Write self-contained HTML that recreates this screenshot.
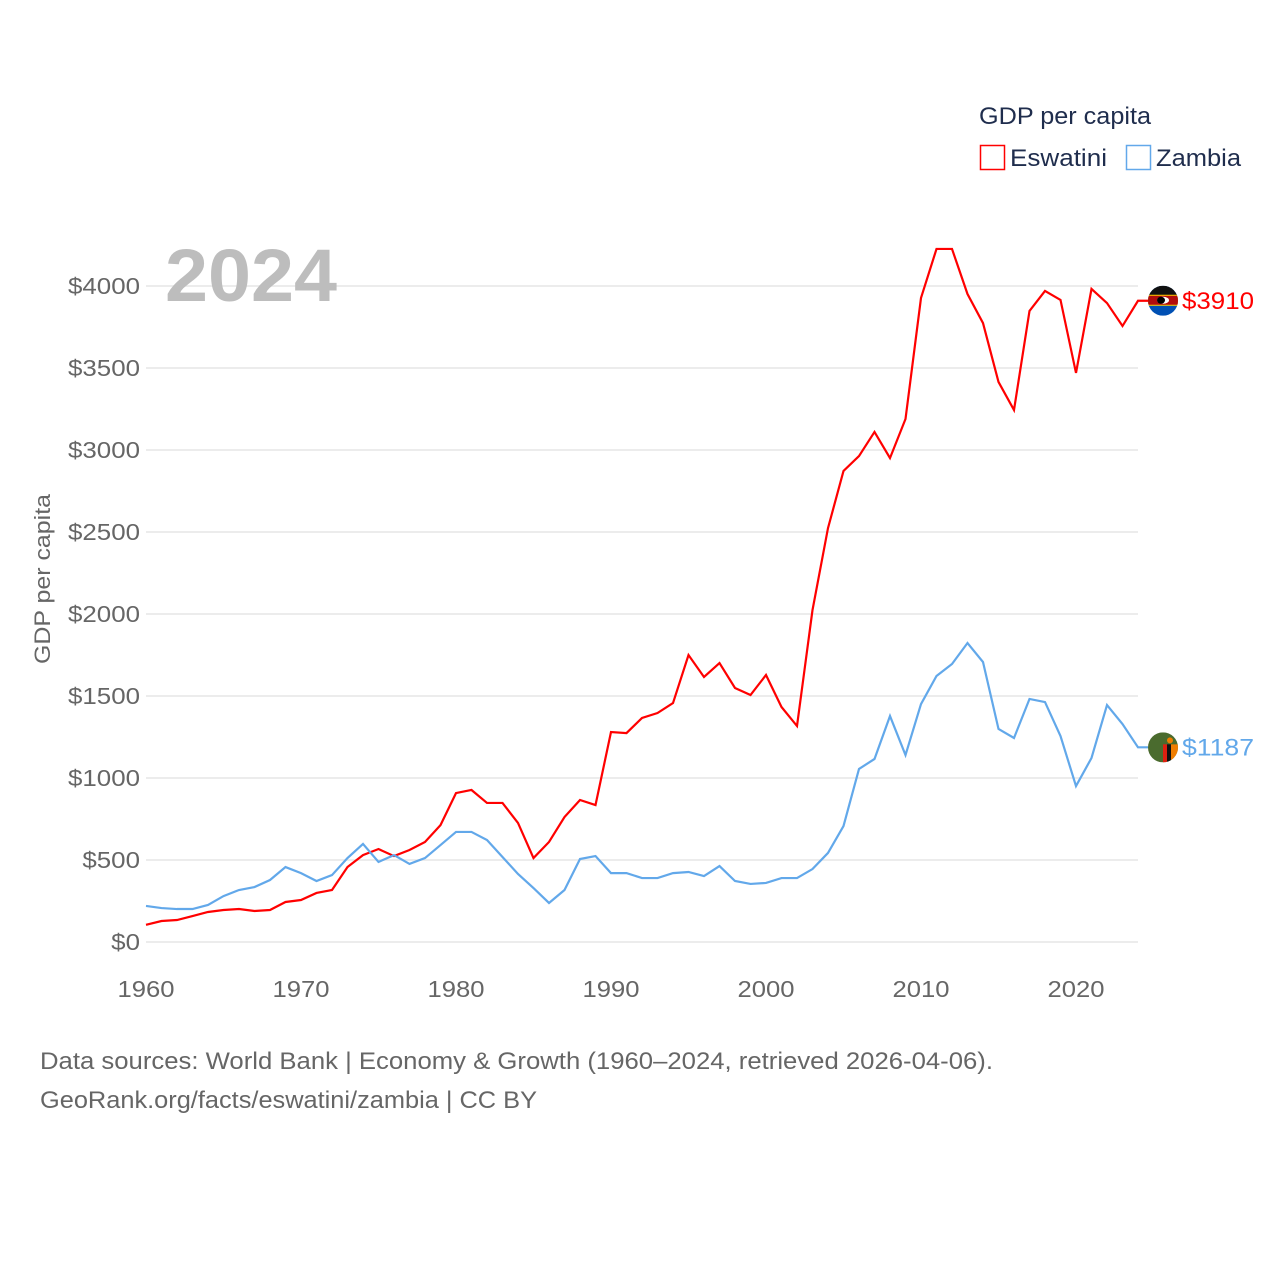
<!DOCTYPE html>
<html><head><meta charset="utf-8">
<style>
html,body{margin:0;padding:0;background:#fff;}
body{width:1280px;height:1280px;overflow:hidden;font-family:"Liberation Sans",sans-serif;}
</style></head>
<body>
<svg id="chart" width="1280" height="1280" xmlns="http://www.w3.org/2000/svg" font-family="Liberation Sans, sans-serif">
  <g id="grid"></g>
  <g id="yticks"></g>
  <g id="xticks"></g>
  <text x="165" y="301" font-size="74" font-weight="bold" fill="#bdbdbd" textLength="172" lengthAdjust="spacingAndGlyphs">2024</text>
  <text transform="translate(50,579) rotate(-90)" text-anchor="middle" font-size="22" fill="#666" textLength="170" lengthAdjust="spacingAndGlyphs">GDP per capita</text>
  <g id="series"></g>
  <g>
    <text x="979" y="124" font-size="24" fill="#1f2d4d" textLength="172" lengthAdjust="spacingAndGlyphs">GDP per capita</text>
    <g>
      <rect x="980.5" y="145.5" width="24" height="24" fill="none" stroke="#ff0000" stroke-width="1.5"/>
      <text x="1010" y="166" font-size="24" fill="#1f2d4d" textLength="97" lengthAdjust="spacingAndGlyphs">Eswatini</text>
    </g>
    <g>
      <rect x="1126.5" y="145.5" width="24" height="24" fill="none" stroke="#62a8ea" stroke-width="1.5"/>
      <text x="1156" y="166" font-size="24" fill="#1f2d4d" textLength="85" lengthAdjust="spacingAndGlyphs">Zambia</text>
    </g>
  </g>
  <text x="40" y="1069" font-size="24" fill="#666" textLength="953" lengthAdjust="spacingAndGlyphs">Data sources: World Bank | Economy &amp; Growth (1960–2024, retrieved 2026-04-06).</text>
  <text x="40" y="1108" font-size="24" fill="#666" textLength="497" lengthAdjust="spacingAndGlyphs">GeoRank.org/facts/eswatini/zambia | CC BY</text>
</svg>
<script>
const years = [];
for (let y = 1960; y <= 2024; y++) years.push(y);
const eswatini = [105,128,134,158,183,195,201,189,195,244,256,299,317,457,530,567,524,561,610,713,908,927,848,848,726,512,610,762,866,835,1280,1274,1366,1396,1457,1750,1616,1701,1549,1506,1628,1433,1317,2024,2524,2872,2963,3110,2951,3189,3927,4226,4226,3951,3774,3415,3244,3848,3970,3915,3470,3982,3896,3756,3910];
const zambia = [220,207,201,201,226,280,317,335,378,457,420,372,408,512,598,488,530,476,512,591,671,671,622,518,415,329,238,317,506,524,420,420,390,390,420,427,402,463,372,354,360,390,390,445,543,707,1055,1116,1378,1140,1451,1622,1695,1823,1707,1299,1244,1482,1463,1256,951,1122,1445,1329,1187];
const yTicks = [0,500,1000,1500,2000,2500,3000,3500,4000];
const xTicks = [1960,1970,1980,1990,2000,2010,2020];

const NS = "http://www.w3.org/2000/svg";
const xs = v => 146 + (v - 1960) * 15.5;
const ys = v => 942 - v * 0.164;
function mk(tag, attrs, parent) {
  const e = document.createElementNS(NS, tag);
  for (const k in attrs) e.setAttribute(k, attrs[k]);
  parent.appendChild(e);
  return e;
}
const grid = document.getElementById('grid');
const yt = document.getElementById('yticks');
const xt = document.getElementById('xticks');
const ser = document.getElementById('series');

yTicks.forEach(v => {
  const l = mk('line', {x1:146, x2:1138, y1:ys(v), y2:ys(v), stroke:'#e6e6e6', 'stroke-width':1.5}, grid);
  
  
  const label = '$' + v;
  const t = mk('text', {x:140, y:ys(v)+8, 'text-anchor':'end', 'font-size':23, fill:'#666', textLength: label.length * 14.4, lengthAdjust:'spacingAndGlyphs'}, yt);
  
  
  t.textContent = label;
});
xTicks.forEach(v => {
  const t = mk('text', {x:xs(v), y:997, 'text-anchor':'middle', 'font-size':23, fill:'#666', textLength:57, lengthAdjust:'spacingAndGlyphs'}, xt);
  
  
  t.textContent = v;
});

function drawSeries(vals, color, name) {
  const pts = vals.map((v, i) => xs(years[i]) + ',' + ys(v));
  const last = vals[vals.length - 1];
  const lx = xs(years[years.length - 1]);
  pts.push((lx + 10) + ',' + ys(last));
  const p = mk('polyline', {points: pts.join(' '), fill:'none', stroke:color, 'stroke-width':2.2, 'stroke-linejoin':'miter'}, ser);
  
  
  const t = mk('text', {x:1182, y:ys(last)+8, 'font-size':24, fill:color, textLength:72, lengthAdjust:'spacingAndGlyphs'}, ser);
  
  
  t.textContent = '$' + last;
  return ys(last);
}
const ey = drawSeries(eswatini, '#ff0000', 'eswatini');
const zy = drawSeries(zambia, '#62a8ea', 'zambia');

// Eswatini flag
const fe = mk('g', {}, ser);


const cp = mk('clipPath', {id:'ce'}, fe);
mk('circle', {cx:1163, cy:ey, r:15}, cp);
const ge = mk('g', {'clip-path':'url(#ce)'}, fe);
mk('rect',{x:1148,y:ey-15,width:30,height:30,fill:'#0050b4'},ge);
mk('rect',{x:1148,y:ey-15,width:30,height:12,fill:'#111'},ge);
mk('rect',{x:1148,y:ey-6,width:30,height:11,fill:'#ffd100'},ge);
mk('rect',{x:1148,y:ey-5,width:30,height:9,fill:'#b10c0c'},ge);
mk('ellipse',{cx:1163,cy:ey-0.5,rx:6,ry:3.5,fill:'#fff'},ge);
mk('ellipse',{cx:1161,cy:ey-0.5,rx:4,ry:3.5,fill:'#000'},ge);
// Zambia flag
const fz = mk('g', {}, ser);


const cz = mk('clipPath', {id:'cz'}, fz);
mk('circle', {cx:1163, cy:zy, r:15}, cz);
const gz = mk('g', {'clip-path':'url(#cz)'}, fz);
mk('rect',{x:1148,y:zy-15,width:30,height:30,fill:'#4a6b2e'},gz);
mk('rect',{x:1163,y:zy-3,width:4,height:18,fill:'#de2010'},gz);
mk('rect',{x:1167,y:zy-3,width:4,height:18,fill:'#111'},gz);
mk('rect',{x:1171,y:zy-3,width:7,height:18,fill:'#ef7d00'},gz);
mk('circle',{cx:1170,cy:zy-7,r:3,fill:'#ef7d00'},gz);
</script>
</body></html>
